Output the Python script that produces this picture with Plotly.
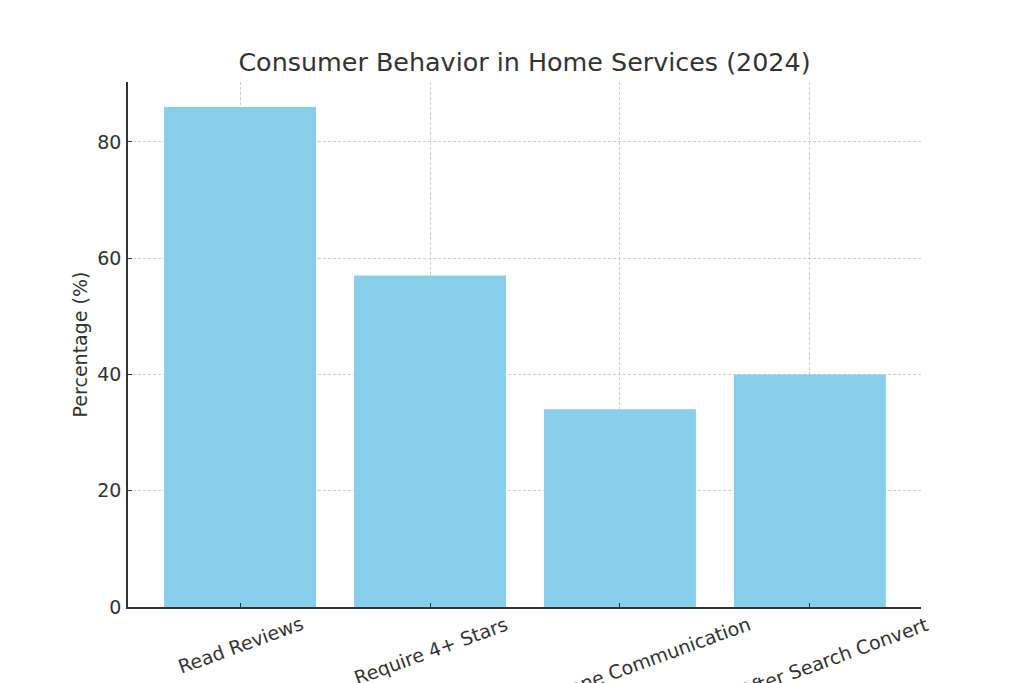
import plotly.graph_objects as go

# ---------------------------------------------------------------
# data
# ---------------------------------------------------------------
categories = ['Read Reviews', 'Require 4+ Stars', 'Prefer Phone Communication', 'Calls After Search Convert']
percentages = [86, 57, 34, 40]
y_ticks = [0, 20, 40, 60, 80]

FONT = 'DejaVu Sans'
TEXT_COLOR = '#333333'
GRID_COLOR = '#cfcfcf'

# the page puts the figure 8px in from the top-left corner, so the
# figure is 8px smaller each way and the margins are shifted to match
fig = go.Figure()
fig.add_trace(
  go.Bar(x=list(range(len(categories))), y=percentages, width=0.8,
         marker=dict(color='#87CEEB', line=dict(width=0)))
)

# rotated labels centred under each bar, top of rotated box just below the axis
for i, label in enumerate(categories):
  fig.add_annotation(
    x=i, y=-0.006, xref='x', yref='paper', text=label, showarrow=False,
    textangle=-20, xanchor='center', yanchor='top',
    font=dict(family=FONT, size=19, color=TEXT_COLOR)
  )

fig.update_layout(
  width=1016, height=675,
  margin=dict(l=120, r=103, t=74, b=76, autoexpand=False),
  plot_bgcolor='white', paper_bgcolor='white',
  showlegend=False,
  title=dict(text='Consumer Behavior in Home Services (2024)', xref='paper', x=0.5, xanchor='center',
             y=0.92, yanchor='middle',
             font=dict(family=FONT, size=25.4, color=TEXT_COLOR)),
  font=dict(family=FONT, size=19, color=TEXT_COLOR),
)

fig.update_xaxes(
  range=[-0.59, 3.585], tickvals=list(range(len(categories))), showticklabels=False,
  showline=True, linecolor='#333333', linewidth=1.5,
  ticks='inside', ticklen=4, tickcolor='#333333',
  showgrid=True, gridcolor=GRID_COLOR, griddash='3px,2px', gridwidth=1,
  zeroline=False
)
fig.update_yaxes(
  range=[0, 90.3], tickvals=y_ticks,
  title=dict(text='Percentage (%)', font=dict(family=FONT, size=19, color=TEXT_COLOR), standoff=5),
  showline=True, linecolor='#333333', linewidth=1.5,
  ticks='inside', ticklen=4, tickcolor='#333333',
  tickfont=dict(family=FONT, size=19, color=TEXT_COLOR), ticklabelstandoff=1,
  showgrid=True, gridcolor=GRID_COLOR, griddash='3px,2px', gridwidth=1,
  zeroline=False
)

fig.write_html('out.html')
